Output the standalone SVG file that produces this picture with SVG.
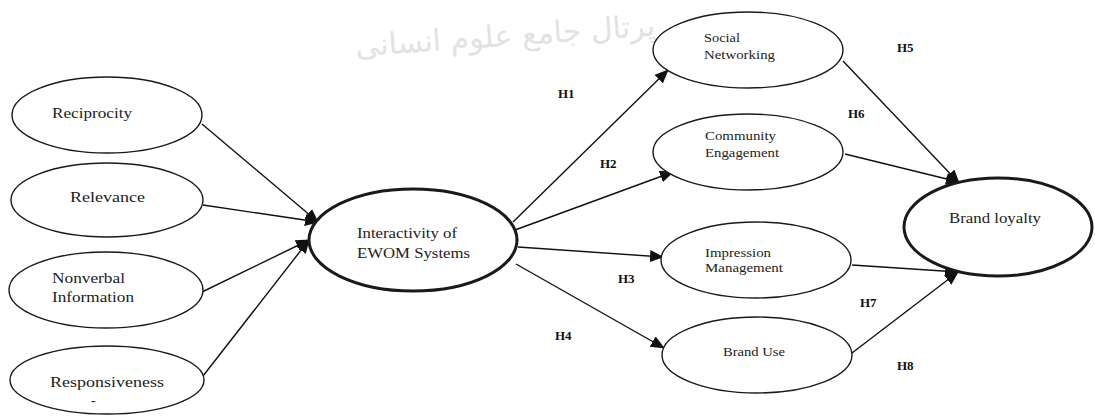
<svg xmlns="http://www.w3.org/2000/svg" width="1095" height="419" viewBox="0 0 1095 419">
<style>
.n{fill:#fff;stroke:#1a1a1a;stroke-width:1.4}
.k{fill:#fff;stroke:#1a1a1a;stroke-width:3}
.t{font-family:"Liberation Serif","Times New Roman",serif;font-size:14px;fill:#222}
.s{font-family:"Liberation Serif","Times New Roman",serif;font-size:13px;fill:#222}
.h{font-family:"Liberation Serif","Times New Roman",serif;font-size:13px;font-weight:bold;fill:#111}
.c line{stroke:#111;stroke-width:1.4;marker-end:url(#ah)}
.w{font-family:"DejaVu Sans",sans-serif;font-size:30px;fill:#e2e2e2}
</style>
<defs>
<marker id="ah" markerUnits="userSpaceOnUse" markerWidth="14" markerHeight="12" viewBox="0 0 14 12" refX="13" refY="6" orient="auto">
<path d="M0,0 L14,6 L0,12 Z" fill="#111"/>
</marker>
</defs>
<rect width="1095" height="419" fill="#fff"/>
<text class="w" x="505" y="46" text-anchor="middle" transform="rotate(-4 505 36)">پرتال جامع علوم انسانی</text>
<g class="c" id="connectors">
<line x1="202" y1="124" x2="318" y2="222"/>
<line x1="203" y1="205" x2="318" y2="222"/>
<line x1="202" y1="292" x2="309" y2="240"/>
<line x1="203" y1="376" x2="309" y2="240"/>
<line x1="513" y1="222" x2="668" y2="70"/>
<line x1="515" y1="230" x2="673" y2="172"/>
<line x1="518" y1="247" x2="663" y2="257"/>
<line x1="516" y1="264" x2="664" y2="348"/>
<line x1="843" y1="61" x2="959" y2="183"/>
<line x1="845" y1="154" x2="959" y2="182"/>
<line x1="852" y1="265" x2="958" y2="272"/>
<line x1="852" y1="353" x2="958" y2="272"/>
</g>
<g id="reciprocity"><ellipse class="n" cx="107" cy="115" rx="95" ry="38"/><text class="t" x="52" y="118" textLength="80" lengthAdjust="spacingAndGlyphs">Reciprocity</text></g>
<g id="relevance"><ellipse class="n" cx="107" cy="200" rx="96" ry="37"/><text class="t" x="70" y="202" textLength="75" lengthAdjust="spacingAndGlyphs">Relevance</text></g>
<g id="nonverbal"><ellipse class="n" cx="106" cy="290" rx="97" ry="38"/><text class="t" x="52" y="283" textLength="73" lengthAdjust="spacingAndGlyphs">Nonverbal</text><text class="t" x="52" y="302" textLength="82" lengthAdjust="spacingAndGlyphs">Information</text></g>
<g id="responsiveness"><ellipse class="n" cx="107" cy="380" rx="97" ry="34"/><text class="t" x="50" y="387" textLength="114" lengthAdjust="spacingAndGlyphs">Responsiveness</text><text class="t" x="91" y="405">-</text></g>
<g id="interactivity"><ellipse class="k" cx="413" cy="240" rx="104" ry="51"/><text class="t" x="357" y="238" textLength="100" lengthAdjust="spacingAndGlyphs">Interactivity of</text><text class="t" x="357" y="258" textLength="113" lengthAdjust="spacingAndGlyphs">EWOM Systems</text></g>
<g id="social"><ellipse class="n" cx="748" cy="50" rx="95" ry="38"/><text class="s" x="704" y="42" textLength="36" lengthAdjust="spacingAndGlyphs">Social</text><text class="s" x="704" y="59" textLength="71" lengthAdjust="spacingAndGlyphs">Networking</text></g>
<g id="community"><ellipse class="n" cx="748" cy="152" rx="95" ry="38"/><text class="s" x="705" y="140" textLength="71" lengthAdjust="spacingAndGlyphs">Community</text><text class="s" x="705" y="157" textLength="74" lengthAdjust="spacingAndGlyphs">Engagement</text></g>
<g id="impression"><ellipse class="n" cx="756" cy="260" rx="95" ry="38"/><text class="s" x="705" y="257" textLength="66" lengthAdjust="spacingAndGlyphs">Impression</text><text class="s" x="705" y="272" textLength="78" lengthAdjust="spacingAndGlyphs">Management</text></g>
<g id="branduse"><ellipse class="n" cx="757" cy="355" rx="95" ry="38"/><text class="s" x="723" y="356" textLength="62" lengthAdjust="spacingAndGlyphs">Brand Use</text></g>
<g id="loyalty"><ellipse class="k" cx="998" cy="227" rx="94" ry="49"/><text class="t" x="949" y="223" textLength="92" lengthAdjust="spacingAndGlyphs">Brand loyalty</text></g>
<g id="labels">
<text class="h" x="558" y="98">H1</text>
<text class="h" x="600" y="168">H2</text>
<text class="h" x="618" y="283">H3</text>
<text class="h" x="555" y="340">H4</text>
<text class="h" x="897" y="52">H5</text>
<text class="h" x="848" y="118">H6</text>
<text class="h" x="860" y="307">H7</text>
<text class="h" x="897" y="370">H8</text>
</g>
</svg>
